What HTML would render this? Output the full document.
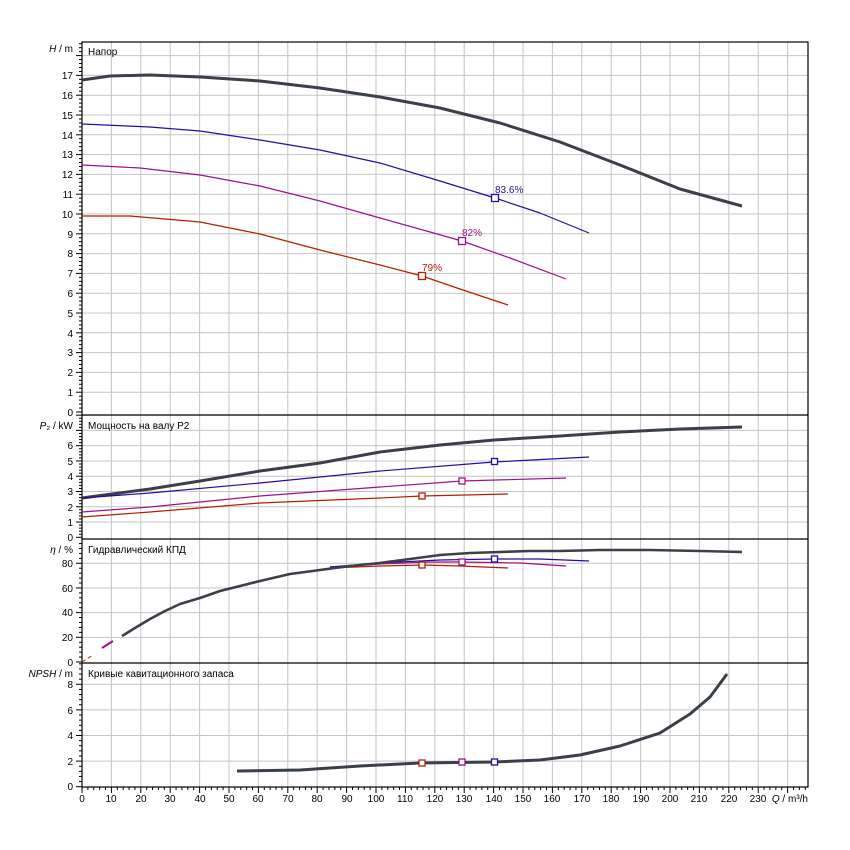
<!DOCTYPE html>
<html><head><meta charset="utf-8"><style>
body{margin:0;background:#fff}
svg{display:block;font-family:"Liberation Sans",sans-serif;font-size:10px}
</style></head><body>
<svg id="s" width="850" height="850" viewBox="0 0 850 850" xmlns="http://www.w3.org/2000/svg">
<g id="grid" stroke="#c4c4c4" stroke-width="1"></g>
<g id="ticks" stroke="#000" stroke-width="1"></g>
<g fill="none" stroke="#000" stroke-width="1.2">
<rect x="82" y="42" width="726" height="745"/>
<line x1="82" y1="415" x2="808" y2="415"/><line x1="82" y1="539" x2="808" y2="539"/><line x1="82" y1="663" x2="808" y2="663"/>
</g>
<g text-anchor="end" fill="#000">
<text x="73" y="52"><tspan font-style="italic">H</tspan> / m</text>
<text x="73" y="416">0</text><text x="73" y="396">1</text><text x="73" y="376">2</text><text x="73" y="356">3</text><text x="73" y="337">4</text><text x="73" y="317">5</text><text x="73" y="297">6</text><text x="73" y="277">7</text><text x="73" y="257">8</text><text x="73" y="238">9</text><text x="73" y="218">10</text><text x="73" y="198">11</text><text x="73" y="178">12</text><text x="73" y="158">13</text><text x="73" y="139">14</text><text x="73" y="119">15</text><text x="73" y="99">16</text><text x="73" y="79">17</text>
<text x="73" y="429"><tspan font-style="italic">P</tspan>₂ / kW</text>
<text x="73" y="541">0</text><text x="73" y="526">1</text><text x="73" y="511">2</text><text x="73" y="495">3</text><text x="73" y="480">4</text><text x="73" y="465">5</text><text x="73" y="449">6</text>
<text x="73" y="553"><tspan font-style="italic">η</tspan> / %</text>
<text x="73" y="666">0</text><text x="73" y="641">20</text><text x="73" y="616">40</text><text x="73" y="592">60</text><text x="73" y="567">80</text>
<text x="73" y="677"><tspan font-style="italic">NPSH</tspan> / m</text>
<text x="73" y="790">0</text><text x="73" y="765">2</text><text x="73" y="739">4</text><text x="73" y="714">6</text><text x="73" y="688">8</text>
</g>
<g fill="#000">
<text x="88" y="55">Напор</text>
<text x="88" y="429">Мощность на валу P2</text>
<text x="88" y="553">Гидравлический КПД</text>
<text x="88" y="677">Кривые кавитационного запаса</text>
</g>
<g id="xl" text-anchor="middle" fill="#000">
<text x="82" y="802">0</text><text x="111" y="802">10</text><text x="141" y="802">20</text><text x="170" y="802">30</text><text x="200" y="802">40</text><text x="229" y="802">50</text><text x="258" y="802">60</text><text x="288" y="802">70</text><text x="317" y="802">80</text><text x="347" y="802">90</text><text x="376" y="802">100</text><text x="405" y="802">110</text><text x="435" y="802">120</text><text x="464" y="802">130</text><text x="494" y="802">140</text><text x="523" y="802">150</text><text x="552" y="802">160</text><text x="582" y="802">170</text><text x="611" y="802">180</text><text x="641" y="802">190</text><text x="670" y="802">200</text><text x="699" y="802">210</text><text x="729" y="802">220</text><text x="758" y="802">230</text>
<text x="808" y="802" text-anchor="end"><tspan font-style="italic">Q</tspan> / m³/h</text>
</g>
<g fill="none" stroke-linejoin="round">
<polyline stroke="#3a4049" stroke-width="3" points="82,80 110,76 150,75 200,77 260,81 320,88 380,97 440,108 500,123 560,142 620,165 680,189 742,206"/>
<polyline stroke="#2a0aa0" stroke-width="1.2" points="82,124 150,127 200,131 260,140 320,150 380,163 440,181 495,198 540,213 589,233"/>
<polyline stroke="#a0108a" stroke-width="1.2" points="82,165 140,168 200,175 260,186 320,201 380,218 430,232 462,241 510,258 566,279"/>
<polyline stroke="#b02000" stroke-width="1.2" points="82,216 130,216 200,222 260,234 320,250 380,265 422,276 460,289 508,305"/>
<polyline stroke="#3a4049" stroke-width="3" points="82,498 150,489 200,481 260,471 320,463 380,452 440,445 494,440 560,436 620,432 680,429 742,427"/>
<polyline stroke="#2a0aa0" stroke-width="1.2" points="82,498 150,493 260,483 380,471 494,462 589,457"/>
<polyline stroke="#a0108a" stroke-width="1.2" points="82,512 150,507 260,496 380,487 462,481 566,478"/>
<polyline stroke="#b02000" stroke-width="1.2" points="82,517 150,512 260,503 380,498 422,496 508,494"/>
<polyline stroke="#b02000" stroke-width="1.2" points="330,568 380,566 422,565 460,566 508,568"/>
<polyline stroke="#a0108a" stroke-width="1.2" points="330,567 380,564 430,562 462,562 520,563 566,566"/>
<polyline stroke="#2a0aa0" stroke-width="1.2" points="330,567 380,563 440,560 495,559 540,559 589,561"/>
<polyline stroke="#3a4049" stroke-width="2.6" points="122,636 135,628 150,619 165,611 180,604 200,598 220,591 240,586 260,581 290,574 320,570 350,566 380,563 410,559 440,555 470,553 500,552 530,551 560,551 600,550 650,550 700,551 742,552"/>
<polyline stroke="#a0108a" stroke-width="2" points="102,648 113,641"/>
<polyline stroke="#b02000" stroke-width="1" stroke-dasharray="4,3" points="82,662 93,655"/>
<polyline stroke="#3a4049" stroke-width="3" points="237,771 300,770 360,766 420,763 494,762 540,760 580,755 620,746 660,733 690,714 710,697 727,674"/>
</g>
<g fill="#fff" stroke-width="1.3">
<rect x="491.5" y="194.5" width="7" height="7" stroke="#2a0aa0"/>
<rect x="458.5" y="237.5" width="7" height="7" stroke="#a0108a"/>
<rect x="418.5" y="272.5" width="7" height="7" stroke="#b02000"/>
<rect x="491.5" y="458.5" width="6" height="6" stroke="#2a0aa0"/>
<rect x="459" y="478" width="6" height="6" stroke="#a0108a"/>
<rect x="419" y="493" width="6" height="6" stroke="#b02000"/>
<rect x="491.5" y="556" width="6" height="6" stroke="#2a0aa0"/>
<rect x="459" y="559" width="6" height="6" stroke="#a0108a"/>
<rect x="419" y="562" width="6" height="6" stroke="#b02000"/>
<rect x="491.5" y="759" width="6" height="6" stroke="#2a0aa0"/>
<rect x="459" y="759" width="6" height="6" stroke="#a0108a"/>
<rect x="419" y="760" width="6" height="6" stroke="#b02000"/>
</g>
<text x="495" y="193" fill="#2a0aa0">83.6%</text>
<text x="462" y="236" fill="#a0108a">82%</text>
<text x="422" y="271" fill="#b02000">79%</text>
</svg>
<script>
var ns="http://www.w3.org/2000/svg",g=document.getElementById("grid"),t=document.getElementById("ticks");
function L(p,x1,y1,x2,y2){var l=document.createElementNS(ns,"line");l.setAttribute("x1",x1);l.setAttribute("y1",y1);l.setAttribute("x2",x2);l.setAttribute("y2",y2);p.appendChild(l);}
for(var q=10;q<=240;q+=10){var x=82+q*2.94;L(g,x,42,x,787);}
for(var q=0;q<=246;q+=2){var x=82+q*2.94;L(t,x,787,x,q%10==0?793:790);}
function P(y0,s,top,minor,major,gstep){for(var v=0;y0-v*s>=top-0.1;v=Math.round((v+minor)*1000)/1000){var y=y0-v*s;var isM=Math.abs(v/major-Math.round(v/major))<1e-6;L(t,82,y,isM?76:79,y);if(v>0&&Math.abs(v/gstep-Math.round(v/gstep))<1e-6)L(g,82,y,808,y);}}
P(412,19.8,42,0.2,1,1);P(537.3,15.27,415,0.2,1,1);P(662,1.234,539,4,20,20);P(786.7,12.8,663,0.4,2,2);
</script>
</body></html>
